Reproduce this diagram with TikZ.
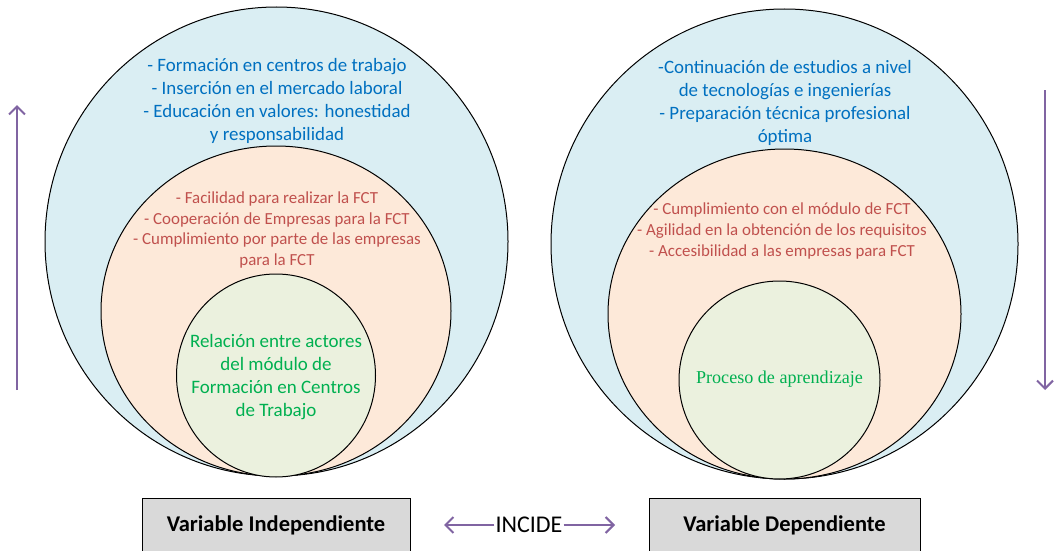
\documentclass[tikz,border=0pt]{standalone}
\usepackage{fontspec}
\setmainfont{Carlito}
\newfontfamily\timesf{Liberation Serif}
\usetikzlibrary{arrows.meta,shapes.geometric}
\definecolor{cblue}{HTML}{DAEEF3}
\definecolor{cpeach}{HTML}{FDE9D9}
\definecolor{cgreen}{HTML}{EBF1DE}
\definecolor{tblue}{HTML}{0070C0}
\definecolor{tred}{HTML}{C0504D}
\definecolor{tgreen}{HTML}{00B050}
\definecolor{cgray}{HTML}{D9D9D9}
\definecolor{cpurple}{HTML}{8064A2}
\tikzset{
  ring/.style={ellipse, draw=black, line width=1pt, inner sep=0pt},
  bluetext/.style={text=tblue, align=center, font=\fontsize{18.9}{23}\selectfont},
  redtext/.style={text=tred, align=center, font=\fontsize{16.9}{20.7}\selectfont},
  greentext/.style={text=tgreen, align=center, font=\fontsize{19}{23}\selectfont},
  varbox/.style={draw=black, fill=cgray, line width=1pt, minimum height=54pt, font=\bfseries\fontsize{22.5}{26}\selectfont},
  parrow/.style={draw=cpurple, line width=2pt, -{Straight Barb[length=8pt,width=16pt,line width=2pt]}}
}
\begin{document}
\begin{tikzpicture}[x=1pt,y=-1pt]
\useasboundingbox (0,0) rectangle (1055,551);
\begin{scope}
\clip (0,0) rectangle (1055,551);
% left
\node[ring, fill=cblue, minimum width=463pt, minimum height=469pt] (L1) at (276.5,241.5) {};
\node[ring, fill=cpeach, minimum width=350pt, minimum height=330pt] (L2) at (276,311) {};
\node[ring, fill=cgreen, minimum width=199pt, minimum height=203pt] (L3) at (276,375.5) {};
% right
\node[ring, fill=cblue, minimum width=467pt, minimum height=470pt] (R1) at (784.5,244) {};
\node[ring, fill=cpeach, minimum width=353pt, minimum height=330pt] (R2) at (784.5,314) {};
\node[ring, fill=cgreen, minimum width=201pt, minimum height=198pt] (R3) at (779.5,380) {};
% texts
\node[bluetext] (LT1) at (277,101) {- Formación en centros de trabajo\\- Inserción en el mercado laboral\\- Educación en valores: honestidad\\y responsabilidad};
\node[redtext] (LT2) at (277,230) {- Facilidad para realizar la FCT\\- Cooperación de Empresas para la FCT\\- Cumplimiento por parte de las empresas\\para la FCT};
\node[greentext] (LT3) at (276,377) {Relación entre actores\\del módulo de\\Formación en Centros\\de Trabajo};
\node[bluetext] (RT1) at (785,103) {-Continuación de estudios a nivel\\de tecnologías e ingenierías\\- Preparación técnica profesional\\óptima};
\node[text=tred, align=center, font=\fontsize{16.9}{21}\selectfont] (RT2) at (782,231) {- Cumplimiento con el módulo de FCT\\- Agilidad en la obtención de los requisitos\\- Accesibilidad a las empresas para FCT};
\node[text=tgreen, font=\timesf\fontsize{18.1}{20}\selectfont] (RT3) at (779.5,379) {Proceso de aprendizaje};
% boxes
\node[varbox, minimum width=268pt] (VI) at (276,525) {Variable Independiente};
\node[varbox, minimum width=271pt] (VD) at (784.5,525) {Variable Dependiente};
\end{scope}
% incide
\node[font=\fontsize{24}{26}\selectfont, inner sep=1pt] (inc) at (529,525) {INCIDE};
\coordinate (incL) at (444,525);
\coordinate (incR) at (615,525);
\draw[parrow] (inc.west) -- (incL);
\draw[parrow] (inc.east) -- (incR);
% vertical arrows
\coordinate (va1) at (17,390);
\coordinate (va2) at (17,105);
\coordinate (vb1) at (1045,90);
\coordinate (vb2) at (1045,390);
\draw[parrow] (va1) -- (va2);
\draw[parrow] (vb1) -- (vb2);
\end{tikzpicture}
\end{document}
